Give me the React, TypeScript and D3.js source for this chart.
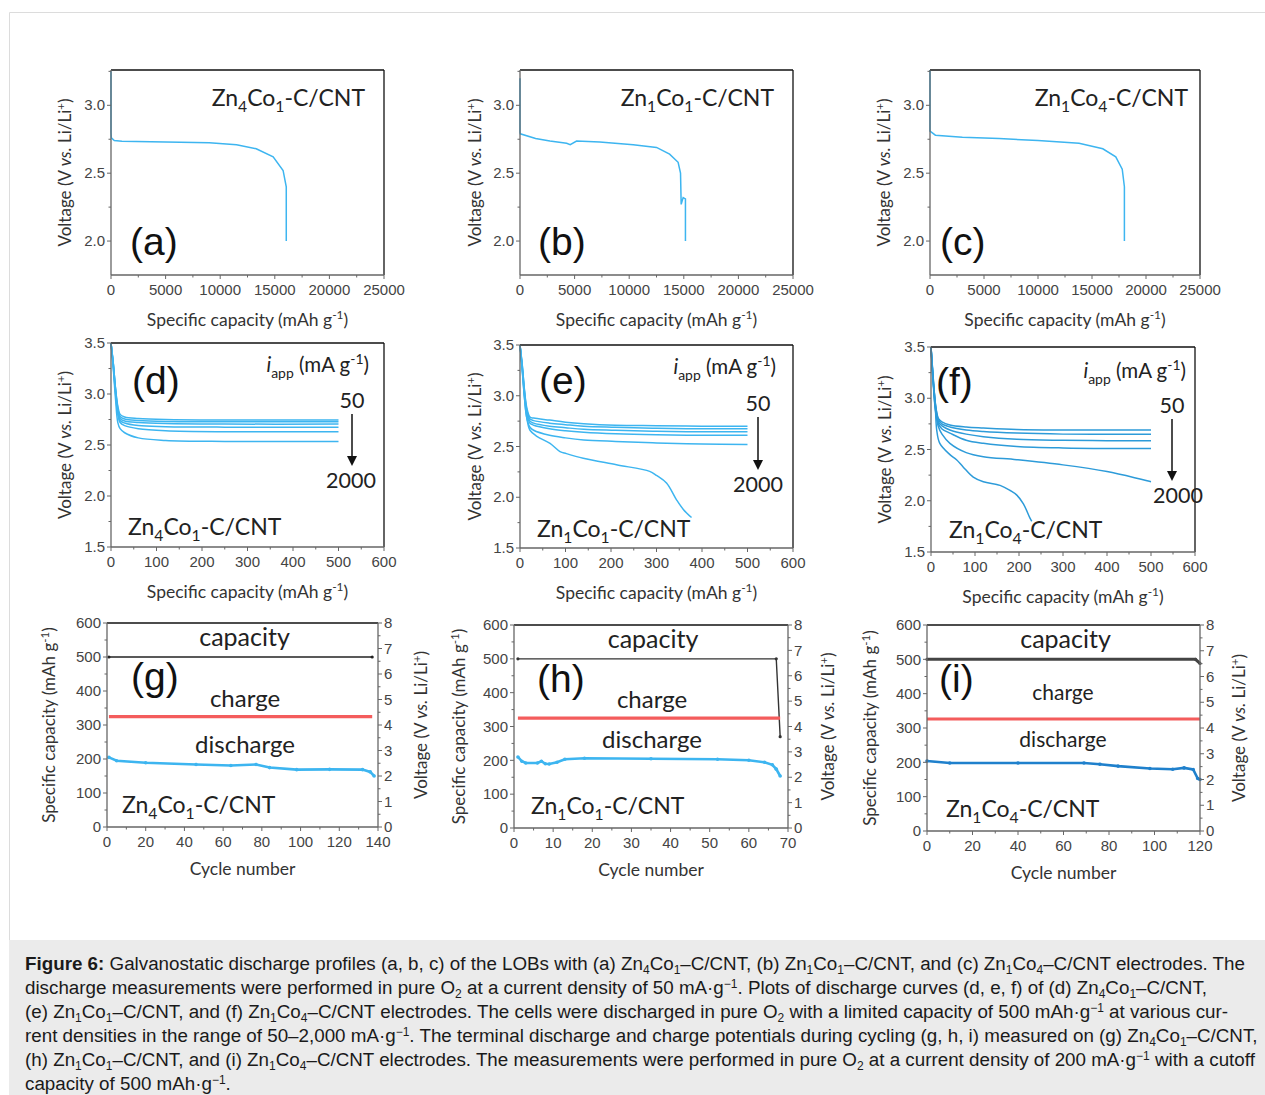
import React from "react";
import * as d3 from "d3";

// ---------- (a)-(c): discharge profiles at 50 mA/g ----------
const capA = [0, 0, 30, 300, 1000, 5000, 9000, 11500, 13300, 14850, 15760, 16050, 16050];
const voltA = [3.25, 2.8, 2.76, 2.74, 2.735, 2.73, 2.725, 2.71, 2.68, 2.62, 2.52, 2.4, 2.0];
const capB = [0, 0, 30, 1430, 2740, 4270, 4600, 5180, 7300, 10370, 12500, 13700, 14480, 14700, 14760, 14940, 15150, 15150];
const voltB = [3.2, 2.8, 2.79, 2.755, 2.737, 2.72, 2.71, 2.737, 2.73, 2.71, 2.69, 2.64, 2.58, 2.5, 2.27, 2.32, 2.31, 2.0];
const capC = [0, 0, 500, 3000, 6400, 10000, 13800, 16000, 17200, 17800, 18000, 18000];
const voltC = [3.26, 2.81, 2.78, 2.765, 2.755, 2.74, 2.72, 2.68, 2.62, 2.53, 2.4, 2.0];

// ---------- (d)-(f): rate curves, 50 -> 2000 mA/g ----------
const rateCapD = [0, 5, 10, 15, 20, 30, 60, 120, 250, 500];
const rateD = [
  [3.5, 3.3, 3.05, 2.88, 2.8, 2.775, 2.76, 2.75, 2.745, 2.745],
  [3.5, 3.3, 3.05, 2.86, 2.78, 2.755, 2.74, 2.73, 2.728, 2.728],
  [3.5, 3.3, 3.04, 2.84, 2.76, 2.735, 2.72, 2.71, 2.705, 2.705],
  [3.5, 3.28, 3.02, 2.82, 2.74, 2.715, 2.69, 2.68, 2.675, 2.675],
  [3.5, 3.27, 3.0, 2.8, 2.72, 2.69, 2.66, 2.64, 2.63, 2.63],
  [3.5, 3.25, 2.95, 2.72, 2.66, 2.62, 2.57, 2.545, 2.535, 2.535],
];
const rateCapE = [0, 5, 10, 15, 22, 30, 65, 100, 140, 210, 300, 400, 500];
const rateE = [
  [3.5, 3.3, 3.05, 2.88, 2.79, 2.78, 2.76, 2.74, 2.725, 2.71, 2.705, 2.7, 2.7],
  [3.5, 3.3, 3.04, 2.86, 2.77, 2.755, 2.73, 2.715, 2.7, 2.69, 2.68, 2.675, 2.675],
  [3.5, 3.28, 3.02, 2.84, 2.75, 2.73, 2.7, 2.685, 2.67, 2.66, 2.65, 2.645, 2.645],
  [3.5, 3.27, 3.0, 2.82, 2.73, 2.71, 2.675, 2.655, 2.64, 2.625, 2.615, 2.61, 2.61],
  [3.5, 3.25, 2.97, 2.78, 2.69, 2.66, 2.61, 2.585, 2.565, 2.55, 2.535, 2.525, 2.52],
];
const lowCapE = [0, 5, 10, 15, 22, 37, 66, 88, 102, 139, 212, 285, 300, 322, 344, 359, 377];
const lowVoltE = [3.5, 3.25, 2.97, 2.78, 2.66, 2.6, 2.53, 2.45, 2.43, 2.385, 2.32, 2.255, 2.215, 2.14, 1.975, 1.88, 1.8];
const rateCapF = [0, 5, 10, 17, 25, 43, 80, 119, 195, 300, 400, 500];
const rateF = [
  [3.5, 3.2, 2.95, 2.8, 2.77, 2.74, 2.72, 2.71, 2.695, 2.69, 2.69, 2.69],
  [3.5, 3.2, 2.94, 2.79, 2.75, 2.72, 2.69, 2.675, 2.66, 2.65, 2.648, 2.648],
  [3.5, 3.18, 2.92, 2.77, 2.73, 2.69, 2.65, 2.625, 2.6, 2.59, 2.586, 2.586],
  [3.5, 3.17, 2.9, 2.75, 2.7, 2.66, 2.59, 2.56, 2.53, 2.515, 2.51, 2.51],
  [3.5, 3.15, 2.88, 2.72, 2.65, 2.56, 2.47, 2.43, 2.4, 2.35, 2.285, 2.186],
];
const lowCapF = [0, 5, 9, 13, 20, 43, 58, 73, 96, 119, 157, 180, 195, 210, 225, 229];
const lowVoltF = [3.5, 3.15, 3.0, 2.69, 2.56, 2.45, 2.4, 2.33, 2.23, 2.185, 2.15, 2.1, 2.055, 1.97, 1.83, 1.8];

// ---------- (g)-(i): cycling at 200 mA/g ----------
const capCyclesG = [1, 137];
const capValsG = [500, 500];
const chgCyclesG = [1, 137];
const chgVoltG = [4.33, 4.33];
const disCyclesG = [1, 5, 20, 46, 64, 77, 84, 98, 115, 132, 136, 138];
const disVoltG = [2.73, 2.6, 2.52, 2.45, 2.41, 2.45, 2.33, 2.25, 2.26, 2.25, 2.16, 2.0];

const capCyclesH = [1, 67, 68];
const capValsH = [500, 500, 270];
const chgCyclesH = [1, 68];
const chgVoltH = [4.33, 4.33];
const disCyclesH = [1, 2, 3, 6, 7, 8, 9, 11, 13, 18, 35, 52, 60, 64, 66, 67, 68];
const disVoltH = [2.8, 2.63, 2.56, 2.56, 2.63, 2.53, 2.52, 2.59, 2.71, 2.75, 2.73, 2.71, 2.67, 2.59, 2.49, 2.32, 2.05];

const capCyclesI = [0, 118, 120];
const capValsI = [500, 500, 488];
const chgCyclesI = [0, 120];
const chgVoltI = [4.35, 4.35];
const disCyclesI = [0, 10, 40, 69, 76, 84, 98, 108, 113, 117, 119, 120];
const disVoltI = [2.72, 2.64, 2.64, 2.64, 2.59, 2.52, 2.43, 2.4, 2.45, 2.39, 2.04, 2.0];

// ---------- ticks ----------
const ticksCapBig = [0, 5000, 10000, 15000, 20000, 25000];
const minorCapBig = [2500, 7500, 12500, 17500, 22500];
const ticksVoltAC = [2.0, 2.5, 3.0];
const minorVoltAC = [2.25, 2.75, 3.25];
const ticksCapRate = [0, 100, 200, 300, 400, 500, 600];
const minorCapRate = [50, 150, 250, 350, 450, 550];
const ticksVoltRate = [1.5, 2.0, 2.5, 3.0, 3.5];
const minorVoltRate = [1.75, 2.25, 2.75, 3.25];
const ticksSpec = [0, 100, 200, 300, 400, 500, 600];
const minorSpec = [50, 150, 250, 350, 450, 550];
const ticksVCyc = [0, 1, 2, 3, 4, 5, 6, 7, 8];
const minorVCyc = [0.5, 1.5, 2.5, 3.5, 4.5, 5.5, 6.5, 7.5];
const ticksCycG = [0, 20, 40, 60, 80, 100, 120, 140];
const minorCycG = [10, 30, 50, 70, 90, 110, 130];
const ticksCycH = [0, 10, 20, 30, 40, 50, 60, 70];
const minorCycH = [5, 15, 25, 35, 45, 55, 65];
const ticksCycI = [0, 20, 40, 60, 80, 100, 120];
const minorCycI = [10, 30, 50, 70, 90, 110];

const CAPTION = [
  "**Figure 6:** Galvanostatic discharge profiles (a, b, c) of the LOBs with (a) Zn_{4}Co_{1}–C/CNT, (b) Zn_{1}Co_{1}–C/CNT, and (c) Zn_{1}Co_{4}–C/CNT electrodes. The",
  "discharge measurements were performed in pure O_{2} at a current density of 50 mA·g^{−1}. Plots of discharge curves (d, e, f) of (d) Zn_{4}Co_{1}–C/CNT,",
  "(e) Zn_{1}Co_{1}–C/CNT, and (f) Zn_{1}Co_{4}–C/CNT electrodes. The cells were discharged in pure O_{2} with a limited capacity of 500 mAh·g^{−1} at various cur-",
  "rent densities in the range of 50–2,000 mA·g^{−1}. The terminal discharge and charge potentials during cycling (g, h, i) measured on (g) Zn_{4}Co_{1}–C/CNT,",
  "(h) Zn_{1}Co_{1}–C/CNT, and (i) Zn_{1}Co_{4}–C/CNT electrodes. The measurements were performed in pure O_{2} at a current density of 200 mA·g^{−1} with a cutoff",
  "capacity of 500 mAh·g^{−1}.",
];

const ARIAL = "'Liberation Sans', Arial, sans-serif";
const CALIBRI = "Lato, 'Open Sans', sans-serif";
const BLUE = "#3db5f0";
const BLUE_F = "#2d9bd9";
const BLUE_I = "#1f80cc";
const RED = "#f45c5c";

type Seg = { t: string; k: string };
function parseRich(s: string): Seg[] {
  const out: Seg[] = [];
  s.split(/(_\{[^}]*\}|\^\{[^}]*\}|\*\*[^*]+\*\*|~[^~]+~)/g).forEach((p) => {
    if (!p) return;
    if (p.startsWith("_{")) out.push({ t: p.slice(2, -1), k: "sub" });
    else if (p.startsWith("^{")) out.push({ t: p.slice(2, -1), k: "sup" });
    else if (p.startsWith("**")) out.push({ t: p.slice(2, -2), k: "b" });
    else if (p.startsWith("~")) out.push({ t: p.slice(1, -1), k: "i" });
    else out.push({ t: p, k: "n" });
  });
  return out;
}

function Rich({ text, x, y, size, anchor = "start", family = CALIBRI, fill = "#222", rotate = false, sub = 0.28, sup = 0.38, small = 0.68 }: any) {
  const segs = parseRich(text);
  let shift = 0;
  return (
    <text
      x={x}
      y={y}
      fontSize={size}
      fontFamily={family}
      fill={fill}
      textAnchor={anchor}
      style={{ whiteSpace: "pre" }}
      transform={rotate ? `rotate(-90 ${x} ${y})` : undefined}
    >
      {segs.map((s, i) => {
        const target = s.k === "sub" ? size * sub : s.k === "sup" ? -size * sup : 0;
        const dy = target - shift;
        shift = target;
        return (
          <tspan
            key={i}
            dy={dy}
            fontSize={s.k === "sub" || s.k === "sup" ? size * small : undefined}
            fontWeight={s.k === "b" ? "bold" : undefined}
            fontStyle={s.k === "i" ? "italic" : undefined}
          >
            {s.t}
          </tspan>
        );
      })}
    </text>
  );
}

function Axes({ L, xs, ys, xt, xm, yt, ym, xf, yf, y2s, y2t, y2m }: any) {
  const axisC = "#666";
  return (
    <g fontFamily={ARIAL} fontSize={15} fill="#444">
      <line x1={L.l} x2={L.r} y1={L.t} y2={L.t} stroke="#111" strokeWidth={1.3} />
      <line x1={L.r} x2={L.r} y1={L.t} y2={L.b} stroke={y2s ? axisC : "#111"} strokeWidth={1.3} />
      <line x1={L.l} x2={L.l} y1={L.t} y2={L.b} stroke={axisC} strokeWidth={1.3} />
      <line x1={L.l} x2={L.r} y1={L.b} y2={L.b} stroke={axisC} strokeWidth={1.3} />
      {xt.map((v: number) => (
        <g key={"x" + v}>
          <line x1={xs(v)} x2={xs(v)} y1={L.b} y2={L.b + 4} stroke={axisC} />
          <text x={xs(v)} y={L.b + 20} textAnchor="middle">{xf(v)}</text>
        </g>
      ))}
      {xm.map((v: number) => (
        <line key={"xm" + v} x1={xs(v)} x2={xs(v)} y1={L.b} y2={L.b + 2.5} stroke={axisC} />
      ))}
      {yt.map((v: number) => (
        <g key={"y" + v}>
          <line x1={L.l - 4} x2={L.l} y1={ys(v)} y2={ys(v)} stroke={axisC} />
          <text x={L.l - 6} y={ys(v) + 5.2} textAnchor="end">{yf(v)}</text>
        </g>
      ))}
      {ym.map((v: number) => (
        <line key={"ym" + v} x1={L.l - 2.5} x2={L.l} y1={ys(v)} y2={ys(v)} stroke={axisC} />
      ))}
      {y2s &&
        y2t.map((v: number) => (
          <g key={"y2" + v}>
            <line x1={L.r} x2={L.r + 4} y1={y2s(v)} y2={y2s(v)} stroke={axisC} />
            <text x={L.r + 6} y={y2s(v) + 5.2} textAnchor="start">{v}</text>
          </g>
        ))}
      {y2s &&
        y2m.map((v: number) => (
          <line key={"y2m" + v} x1={L.r} x2={L.r + 2.5} y1={y2s(v)} y2={y2s(v)} stroke={axisC} />
        ))}
    </g>
  );
}

const fmt1 = (v: number) => v.toFixed(1);
const fmt0 = (v: number) => String(v);
const VOLT_LABEL = "Voltage (V ~vs.~ Li/Li^{+})";
const CAP_LABEL = "Specific capacity (mAh g^{-1})";

function ProfilePanel({ L, caps, volts, name, tag, nameEnd, tagX, ylx }: any) {
  const xs = d3.scaleLinear().domain([0, 25000]).range([L.l, L.r]);
  const ys = d3.scaleLinear().domain([1.75, 3.26]).range([L.b, L.t]);
  const line = d3.line<number>().x((_, i) => xs(caps[i])).y((d) => ys(d));
  return (
    <g>
      <path d={line(volts) || ""} fill="none" stroke={BLUE} strokeWidth={1.5} />
      <Axes L={L} xs={xs} ys={ys} xt={ticksCapBig} xm={minorCapBig} yt={ticksVoltAC} ym={minorVoltAC} xf={fmt0} yf={fmt1} />
      <Rich text={name} x={nameEnd} y={L.t + 36} size={23} anchor="end" />
      <text x={tagX} y={L.b - 20} fontSize={39} fontFamily={ARIAL} fill="#111">{tag}</text>
      <Rich text={CAP_LABEL} x={(L.l + L.r) / 2} y={L.b + 51} size={17.5} anchor="middle" fill="#333" />
      <Rich text={VOLT_LABEL} x={ylx} y={(L.t + L.b) / 2} size={17} anchor="middle" fill="#333" rotate />
    </g>
  );
}

function RatePanel({ L, caps, curves, lowCaps, lowVolts, color, name, tag, tagX, tx, ylx }: any) {
  const xs = d3.scaleLinear().domain([0, 600]).range([L.l, L.r]);
  const ys = d3.scaleLinear().domain([1.5, 3.5]).range([L.b, L.t]);
  const mk = (cx: number[]) =>
    d3.line<number>().x((_, i) => xs(cx[i])).y((d) => ys(d)).curve(d3.curveCatmullRom.alpha(0.5));
  return (
    <g>
      {curves.map((c: number[], i: number) => (
        <path key={i} d={mk(caps)(c) || ""} fill="none" stroke={color} strokeWidth={1.5} />
      ))}
      {lowCaps && <path d={mk(lowCaps)(lowVolts) || ""} fill="none" stroke={color} strokeWidth={1.5} />}
      <Axes L={L} xs={xs} ys={ys} xt={ticksCapRate} xm={minorCapRate} yt={ticksVoltRate} ym={minorVoltRate} xf={fmt0} yf={fmt1} />
      <text x={tagX} y={tx.tagY} fontSize={39} fontFamily={ARIAL} fill="#111">{tag}</text>
      <Rich text="~i~_{app} (mA g^{-1})" x={tx.iappX} y={tx.iappY} size={20.5} anchor="end" />
      <text x={tx.arrowX} y={tx.y50} fontSize={21.5} fontFamily={CALIBRI} fill="#222" textAnchor="middle">50</text>
      <line x1={tx.arrowX} x2={tx.arrowX} y1={tx.y50 + 6} y2={tx.y2000 - 30} stroke="#111" strokeWidth={1.5} />
      <path
        d={`M${tx.arrowX - 5},${tx.y2000 - 32} L${tx.arrowX + 5},${tx.y2000 - 32} L${tx.arrowX},${tx.y2000 - 22} Z`}
        fill="#111"
      />
      <text x={tx.x2000} y={tx.y2000} fontSize={21.5} fontFamily={CALIBRI} fill="#222" textAnchor="middle">2000</text>
      <Rich text={name} x={tx.nameX} y={tx.nameY} size={23} />
      <Rich text={CAP_LABEL} x={(L.l + L.r) / 2} y={L.b + 51} size={17.5} anchor="middle" fill="#333" />
      <Rich text={VOLT_LABEL} x={ylx} y={(L.t + L.b) / 2} size={17} anchor="middle" fill="#333" rotate />
    </g>
  );
}

function CyclePanel({ L, maxCycle, xt, xm, cap, chg, dis, disColor, capColor, capWidth, name, tag, tx }: any) {
  const xs = d3.scaleLinear().domain([0, maxCycle]).range([L.l, L.r]);
  const ys = d3.scaleLinear().domain([0, 600]).range([L.b, L.t]);
  const y2 = d3.scaleLinear().domain([0, 8]).range([L.b, L.t]);
  const mk = (cx: number[], sc: any) => d3.line<number>().x((_, i) => xs(cx[i])).y((d) => sc(d));
  const dots = (cx: number[], vals: number[], sc: any, col: string, r: number) =>
    vals.map((v, i) => <circle key={i} cx={xs(cx[i])} cy={sc(v)} r={r} fill={col} />);
  return (
    <g>
      <path d={mk(cap[0], ys)(cap[1]) || ""} fill="none" stroke={capColor} strokeWidth={capWidth} />
      {dots(cap[0], cap[1], ys, capColor, 1.6)}
      <path d={mk(chg[0], y2)(chg[1]) || ""} fill="none" stroke={RED} strokeWidth={3.2} />
      <path d={mk(dis[0], y2)(dis[1]) || ""} fill="none" stroke={disColor} strokeWidth={2.6} />
      {dots(dis[0], dis[1], y2, disColor, 1.8)}
      <Axes L={L} xs={xs} ys={ys} xt={xt} xm={xm} yt={ticksSpec} ym={minorSpec} xf={fmt0} yf={fmt0} y2s={y2} y2t={ticksVCyc} y2m={minorVCyc} />
      <text x={(L.l + L.r) / 2 + 2} y={L.t + 23} fontSize={25} fontFamily={CALIBRI} fill="#222" textAnchor="middle">capacity</text>
      <text x={tx.tagX} y={L.t + 67} fontSize={39} fontFamily={ARIAL} fill="#111">{tag}</text>
      <text x={tx.chgX} y={tx.chgY} fontSize={tx.fs} fontFamily={CALIBRI} fill="#222" textAnchor="middle">charge</text>
      <text x={tx.disX} y={tx.disY} fontSize={tx.fs} fontFamily={CALIBRI} fill="#222" textAnchor="middle">discharge</text>
      <Rich text={name} x={tx.nameX} y={L.b - 14} size={23} />
      <text x={(L.l + L.r) / 2} y={L.b + 48} fontSize={17.5} fontFamily={CALIBRI} fill="#333" textAnchor="middle">Cycle number</text>
      <Rich text={CAP_LABEL} x={tx.ylx} y={(L.t + L.b) / 2} size={17} anchor="middle" fill="#333" rotate />
      <Rich text={VOLT_LABEL} x={tx.y2lx} y={(L.t + L.b) / 2} size={17} anchor="middle" fill="#333" rotate />
    </g>
  );
}

export default function App() {
  return (
    <div style={{ position: "absolute", left: 0, top: 0 }}>
      <svg width={1265} height={1095} style={{ display: "block" }}>
        <rect x={0} y={0} width={1265} height={1095} fill="#fff" />
        <path d="M9.5,1095 L9.5,12.5 L1265,12.5" fill="none" stroke="#dcdcdc" strokeWidth={1} />
        <rect x={9} y={940} width={1256} height={155} fill="#ebebeb" />

        <ProfilePanel L={{ l: 111, r: 384, t: 70, b: 275 }} caps={capA} volts={voltA} name="Zn_{4}Co_{1}-C/CNT" nameEnd={365} tag="(a)" tagX={130} ylx={71} />
        <ProfilePanel L={{ l: 520, r: 793, t: 70, b: 275 }} caps={capB} volts={voltB} name="Zn_{1}Co_{1}-C/CNT" nameEnd={774} tag="(b)" tagX={538} ylx={481} />
        <ProfilePanel L={{ l: 930, r: 1200, t: 70, b: 275 }} caps={capC} volts={voltC} name="Zn_{1}Co_{4}-C/CNT" nameEnd={1188} tag="(c)" tagX={940} ylx={890} />

        <RatePanel
          L={{ l: 111, r: 384, t: 343, b: 547 }} caps={rateCapD} curves={rateD} color={BLUE}
          name="Zn_{4}Co_{1}-C/CNT" tag="(d)" tagX={132} ylx={71}
          tx={{ tagY: 394, iappX: 369, iappY: 372, arrowX: 352, y50: 408, x2000: 351, y2000: 488, nameX: 128, nameY: 535 }}
        />
        <RatePanel
          L={{ l: 520, r: 793, t: 345, b: 548 }} caps={rateCapE} curves={rateE} lowCaps={lowCapE} lowVolts={lowVoltE} color={BLUE}
          name="Zn_{1}Co_{1}-C/CNT" tag="(e)" tagX={539} ylx={481}
          tx={{ tagY: 394, iappX: 776, iappY: 374, arrowX: 758, y50: 411, x2000: 758, y2000: 492, nameX: 537, nameY: 537 }}
        />
        <RatePanel
          L={{ l: 931, r: 1195, t: 347, b: 552 }} caps={rateCapF} curves={rateF} lowCaps={lowCapF} lowVolts={lowVoltF} color={BLUE_F}
          name="Zn_{1}Co_{4}-C/CNT" tag="(f)" tagX={936} ylx={891}
          tx={{ tagY: 395, iappX: 1186, iappY: 378, arrowX: 1172, y50: 413, x2000: 1178, y2000: 503, nameX: 949, nameY: 538 }}
        />

        <CyclePanel
          L={{ l: 107, r: 378, t: 623, b: 827 }} maxCycle={140} xt={ticksCycG} xm={minorCycG}
          cap={[capCyclesG, capValsG]} chg={[chgCyclesG, chgVoltG]} dis={[disCyclesG, disVoltG]}
          disColor={BLUE} capColor="#222" capWidth={1.6} name="Zn_{4}Co_{1}-C/CNT" tag="(g)"
          tx={{ tagX: 131, chgX: 245, chgY: 707, disX: 245, disY: 753, fs: 24, nameX: 122, ylx: 55, y2lx: 427 }}
        />
        <CyclePanel
          L={{ l: 514, r: 788, t: 625, b: 828 }} maxCycle={70} xt={ticksCycH} xm={minorCycH}
          cap={[capCyclesH, capValsH]} chg={[chgCyclesH, chgVoltH]} dis={[disCyclesH, disVoltH]}
          disColor={BLUE} capColor="#333" capWidth={1.4} name="Zn_{1}Co_{1}-C/CNT" tag="(h)"
          tx={{ tagX: 537, chgX: 652, chgY: 708, disX: 652, disY: 748, fs: 24, nameX: 531, ylx: 465, y2lx: 834 }}
        />
        <CyclePanel
          L={{ l: 927, r: 1200, t: 625, b: 831 }} maxCycle={120} xt={ticksCycI} xm={minorCycI}
          cap={[capCyclesI, capValsI]} chg={[chgCyclesI, chgVoltI]} dis={[disCyclesI, disVoltI]}
          disColor={BLUE_I} capColor="#444" capWidth={3} name="Zn_{1}Co_{4}-C/CNT" tag="(i)"
          tx={{ tagX: 939, chgX: 1063, chgY: 700, disX: 1063, disY: 747, fs: 21, nameX: 946, ylx: 876, y2lx: 1245 }}
        />

        {CAPTION.map((line, i) => (
          <Rich key={i} text={line} x={25} y={970 + i * 24} size={18.8} family={ARIAL} fill="#1a1a1a" sub={0.2} sup={0.3} small={0.64} />
        ))}
      </svg>
    </div>
  );
}
